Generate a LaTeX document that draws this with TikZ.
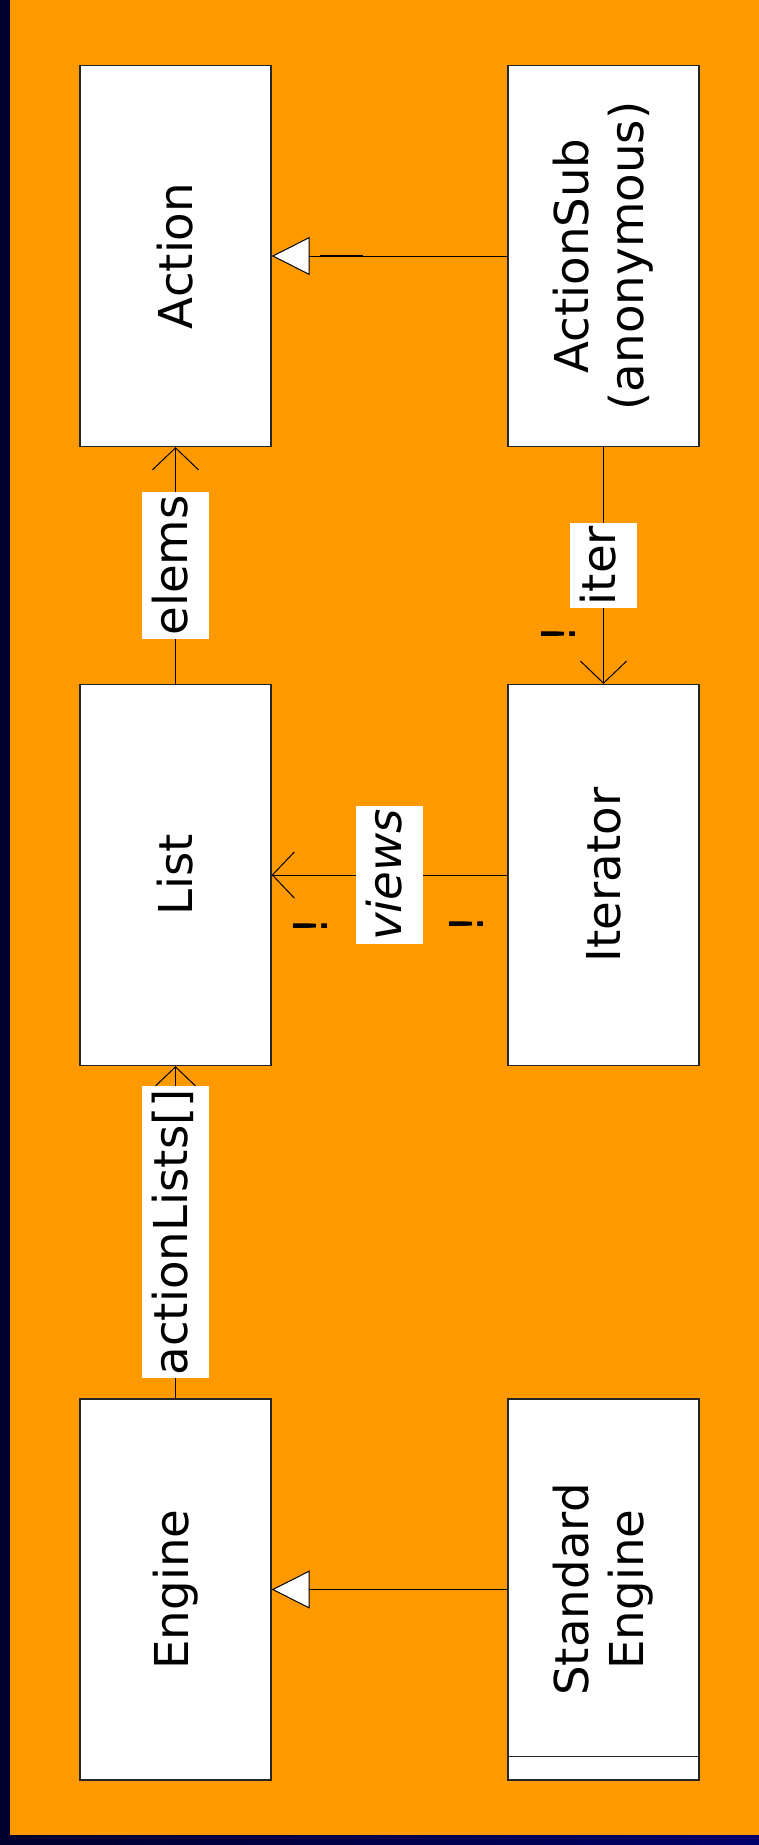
\documentclass[tikz,border=0pt]{standalone}
\usepackage{fontspec}
\setmainfont{DejaVu Sans}
\usetikzlibrary{arrows.meta}

\definecolor{slideorange}{HTML}{FF9900}
\definecolor{navyL}{RGB}{0,0,46}
\definecolor{navyR}{RGB}{0,0,106}

\tikzset{
  classbox/.style={draw=black!85, line width=1.3pt, fill=white,
    minimum width=191pt, minimum height=381pt, inner sep=0pt},
  classname/.style={rotate=90, align=center,
    font=\fontsize{46.7}{55}\selectfont},
  rolelabel/.style={rotate=90, fill=white, inner xsep=3pt, inner ysep=10.5pt,
    text height=35.5pt, text depth=11.2pt,
    font=\fontsize{46.7}{55}\selectfont},
  mult/.style={rotate=90, inner sep=0pt, font=\fontsize{46.7}{55}\selectfont},
  gen/.style={line width=1pt, -{Triangle[open, fill=white, length=38pt, width=38pt, line width=1pt]}},
  assoc/.style={line width=1pt, -{Straight Barb[length=22pt, width=46pt, line width=1pt]}},
  heavy/.style={line width=1.8pt}
}

\begin{document}
\begin{tikzpicture}[x=1pt, y=-1pt]
  % slide background: dark frame with orange panel
  \shade[left color=navyL, right color=navyR] (0,0) rectangle (759,1845);
  \fill[slideorange] (10,0) rectangle (759,1835);

  % classes
  \node[classbox] (act)  at (175.5,256)  {};
  \node[classbox] (asub) at (603.5,256)  {};
  \node[classbox] (list) at (175.5,875)  {};
  \node[classbox] (iter) at (603.5,875)  {};
  \node[classbox] (eng)  at (175.5,1589.5) {};
  \node[classbox] (seng) at (603.5,1589.5) {};
  \draw[line width=1.3pt, draw=black!85] ([yshift=24pt]seng.south west) -- ([yshift=24pt]seng.south east);

  \node[classname] (actT)  at (act)  {Action};
  \node[classname] (asubT) at (asub) {ActionSub\\(anonymous)};
  \node[classname] (listT) at (list) {List};
  \node[classname] (iterT) at (iter) {Iterator};
  \node[classname] (engT)  at (eng)  {Engine};
  \node[classname] (sengT) at (seng) {Standard\\Engine};

  % generalizations
  \draw[gen] (asub.west) -- (act.east);
  \draw[heavy] ([xshift=48pt]act.east) -- ([xshift=91pt]act.east);
  \draw[gen] (seng.west) -- (eng.east);
  \draw[heavy] ([xshift=47pt]eng.east) -- ([xshift=91pt]eng.east);

  % associations
  \draw[assoc] (list.north) -- node[rolelabel] (elemsL) {elems} (act.south);
  \draw[assoc] (eng.north) -- node[rolelabel] (alistL) {actionLists[]} (list.south);
  \draw[assoc] (asub.south) -- node[rolelabel] (iterL) {iter} (iter.north);
  \draw[assoc] (iter.west) -- node[rolelabel, font=\fontsize{46.7}{55}\selectfont\itshape] (viewsL) {views} (list.east);

  % multiplicity marks
  \node[mult] (m1) at (558,634) {!};
  \node[mult] (m2) at (310,926) {!};
  \node[mult] (m3) at (466,924) {!};
\end{tikzpicture}
\end{document}
